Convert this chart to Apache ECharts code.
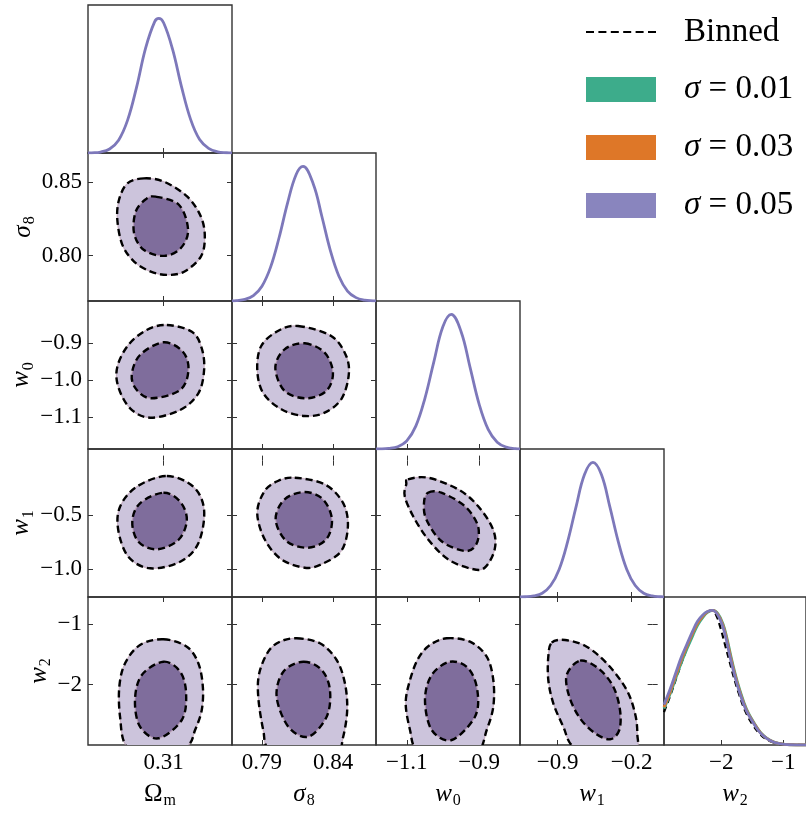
<!DOCTYPE html>
<html>
<head>
<meta charset="utf-8">
<script src="https://cdn.jsdelivr.net/npm/echarts@6.0.0/dist/echarts.min.js"></script>
<style>
  html, body { margin: 0; padding: 0; background: #fff; }
  #main { width: 806px; height: 814px; }
</style>
</head>
<body>
<div id="main"></div>
<script>
// ---- axes ----
const paramNames = ['{r|Ω}{s|m}', '{i|σ}{s|8}', '{i|w}{s|0}', '{i|w}{s|1}', '{i|w}{s|2}'];
const xRanges = [[0.268, 0.348], [0.769, 0.870], [-1.185, -0.787], [-1.255, 0.107], [-2.92, -0.634]];
const yRanges = [[0.268, 0.348], [0.769, 0.870], [-1.185, -0.787], [-1.255, 0.107], [-2.993, -0.555]];
const xTicks = [[0.31], [0.79, 0.84], [-1.1, -0.9], [-0.9, -0.2], [-2, -1]];
const xTickLabels = [['0.31'], ['0.79', '0.84'], ['−1.1', '−0.9'], ['−0.9', '−0.2'], ['−2', '−1']];
const yTicks = [[], [0.80, 0.85], [-1.1, -1.0, -0.9], [-1.0, -0.5], [-2, -1]];
const yTickLabels = [[], ['0.80', '0.85'], ['−1.1', '−1.0', '−0.9'], ['−1.0', '−0.5'], ['−2', '−1']];

// ---- 1D marginals (peak = 1) ----
const pdfOm = [[0.268,0.0005],[0.270,0.0014],[0.275,0.0072],[0.280,0.030],[0.285,0.095],[0.290,0.244],[0.295,0.49],[0.300,0.78],[0.305,0.975],[0.3073,1.0],[0.310,0.968],[0.315,0.77],[0.320,0.49],[0.325,0.25],[0.330,0.10],[0.335,0.035],[0.340,0.009],[0.345,0.002],[0.348,0.0005]];
const pdfS8 = [[0.769,0.001],[0.772,0.003],[0.778,0.012],[0.784,0.040],[0.790,0.110],[0.796,0.25],[0.802,0.47],[0.808,0.73],[0.814,0.94],[0.8188,1.0],[0.826,0.87],[0.832,0.63],[0.838,0.375],[0.844,0.184],[0.850,0.074],[0.856,0.025],[0.862,0.007],[0.868,0.0016],[0.870,0.001]];
const pdfW0 = [[-1.185,0.0004],[-1.175,0.0007],[-1.150,0.004],[-1.125,0.017],[-1.100,0.06],[-1.075,0.17],[-1.050,0.375],[-1.025,0.65],[-1.000,0.91],[-0.977,1.0],[-0.950,0.874],[-0.925,0.607],[-0.900,0.334],[-0.875,0.146],[-0.850,0.051],[-0.825,0.014],[-0.800,0.003],[-0.787,0.001]];
const pdfW1 = [[-1.255,0.001],[-1.205,0.0018],[-1.125,0.008],[-1.045,0.028],[-0.965,0.085],[-0.885,0.205],[-0.805,0.41],[-0.725,0.67],[-0.645,0.91],[-0.565,1.0],[-0.485,0.91],[-0.405,0.67],[-0.325,0.41],[-0.245,0.205],[-0.165,0.085],[-0.085,0.028],[-0.005,0.008],[0.075,0.0018],[0.107,0.001]];
const pdfW2 = [[-2.92,0.30],[-2.825,0.41],[-2.72,0.55],[-2.639,0.655],[-2.55,0.75],[-2.455,0.85],[-2.38,0.92],[-2.30,0.965],[-2.22,0.992],[-2.14,1.0],[-2.06,0.97],[-1.98,0.89],[-1.92,0.79],[-1.857,0.655],[-1.79,0.53],[-1.714,0.407],[-1.60,0.26],[-1.476,0.16],[-1.37,0.09],[-1.269,0.05],[-1.16,0.022],[-1.063,0.01],[-0.90,0.002],[-0.634,0.0]];
const pdfW2s01 = [[-2.92,0.27],[-2.825,0.375],[-2.72,0.51],[-2.639,0.615],[-2.55,0.715],[-2.455,0.815],[-2.38,0.89],[-2.30,0.945],[-2.22,0.985],[-2.13,1.0],[-2.05,0.975],[-1.97,0.9],[-1.91,0.8],[-1.845,0.665],[-1.78,0.54],[-1.70,0.41],[-1.59,0.265],[-1.465,0.16],[-1.36,0.09],[-1.26,0.05],[-1.15,0.022],[-1.05,0.01],[-0.90,0.002],[-0.634,0]];
const pdfW2s03 = [[-2.92,0.28],[-2.825,0.39],[-2.72,0.53],[-2.639,0.635],[-2.55,0.735],[-2.455,0.835],[-2.38,0.905],[-2.30,0.955],[-2.22,0.99],[-2.135,1.0],[-2.055,0.972],[-1.975,0.895],[-1.915,0.795],[-1.85,0.66],[-1.785,0.535],[-1.707,0.408],[-1.595,0.262],[-1.47,0.16],[-1.365,0.09],[-1.265,0.05],[-1.155,0.022],[-1.055,0.01],[-0.90,0.002],[-0.634,0]];
const pdfW2binned = [[-2.92,0.245],[-2.825,0.36],[-2.72,0.50],[-2.639,0.61],[-2.55,0.72],[-2.455,0.83],[-2.38,0.905],[-2.30,0.955],[-2.22,0.99],[-2.15,1.0],[-2.08,0.965],[-2.01,0.87],[-1.94,0.75],[-1.87,0.63],[-1.80,0.51],[-1.72,0.39],[-1.61,0.25],[-1.49,0.15],[-1.38,0.085],[-1.28,0.045],[-1.17,0.02],[-1.07,0.008],[-0.90,0.001],[-0.634,0]];

// ---- 2D contours (95% outer, 68% inner) ----
const omS8Outer = [[0.2991,0.8527],[0.3103,0.8504],[0.3232,0.8402],[0.3307,0.8266],[0.3329,0.8129],[0.3307,0.7993],[0.3214,0.7890],[0.3121,0.7868],[0.3029,0.7890],[0.2936,0.7959],[0.2871,0.8073],[0.2843,0.8243],[0.2852,0.8379],[0.2899,0.8493]];
const omS8Inner = [[0.3056,0.8402],[0.3186,0.8345],[0.3236,0.8175],[0.3195,0.8050],[0.3103,0.7998],[0.2991,0.8038],[0.2936,0.8152],[0.2945,0.8300],[0.3001,0.8384]];
const omW0Outer = [[0.3118,-0.8515],[0.3257,-0.8696],[0.3312,-0.9142],[0.3325,-0.9725],[0.3293,-1.0352],[0.3192,-1.0801],[0.3025,-1.1008],[0.2914,-1.0755],[0.2848,-1.0174],[0.2843,-0.9637],[0.2904,-0.9053],[0.3006,-0.8650]];
const omW0Inner = [[0.3099,-0.8981],[0.3207,-0.9233],[0.3238,-0.9725],[0.3192,-1.0263],[0.3034,-1.0486],[0.2951,-1.0263],[0.2923,-0.9860],[0.2969,-0.9322]];
const omW1Outer = [[0.3118,-0.1415],[0.3265,-0.2399],[0.3325,-0.4544],[0.3293,-0.7608],[0.3192,-0.9302],[0.3025,-0.9909],[0.2904,-0.8842],[0.2848,-0.6384],[0.2858,-0.4240],[0.2951,-0.2399]];
const omW1Inner = [[0.3099,-0.2952],[0.3192,-0.3780],[0.3229,-0.5464],[0.3182,-0.7305],[0.3062,-0.8161],[0.2960,-0.7461],[0.2926,-0.5620],[0.2969,-0.3927]];
const omW2Outer = [[0.3099,-1.2518],[0.3229,-1.3737],[0.3293,-1.6472],[0.3318,-2.0326],[0.3312,-2.4165],[0.3275,-2.7459],[0.3229,-3.0210],[0.3053,-3.2945],[0.2895,-3.0210],[0.2858,-2.5268],[0.2854,-2.0326],[0.2886,-1.6472],[0.2969,-1.3457]];
const omW2Inner = [[0.3099,-1.6208],[0.3192,-1.7855],[0.3225,-2.1414],[0.3201,-2.5812],[0.3071,-2.8826],[0.2969,-2.6916],[0.2941,-2.2517],[0.2979,-1.8399]];
const s8W0Outer = [[0.8153,-0.8542],[0.8386,-0.8811],[0.8491,-0.9349],[0.8508,-0.9887],[0.8456,-1.0513],[0.8340,-1.0874],[0.8200,-1.0962],[0.8036,-1.0782],[0.7907,-1.0336],[0.7867,-0.9707],[0.7895,-0.9080],[0.8012,-0.8677]];
const s8W0Inner = [[0.8200,-0.9007],[0.8340,-0.9260],[0.8398,-0.9798],[0.8351,-1.0290],[0.8211,-1.0486],[0.8059,-1.0290],[0.7994,-0.9664],[0.8059,-0.9169]];
const s8W1Outer = [[0.8130,-0.1571],[0.8340,-0.2179],[0.8468,-0.3872],[0.8503,-0.6016],[0.8456,-0.8317],[0.8316,-0.9541],[0.8200,-0.9854],[0.8036,-0.9081],[0.7919,-0.7240],[0.7867,-0.4792],[0.7919,-0.2795],[0.8012,-0.1875]];
const s8W1Inner = [[0.8200,-0.2887],[0.8328,-0.3559],[0.8391,-0.5400],[0.8351,-0.7240],[0.8223,-0.8013],[0.8071,-0.7397],[0.7996,-0.5400],[0.8059,-0.3559]];
const s8W2Outer = [[0.8144,-1.2353],[0.8307,-1.3177],[0.8424,-1.5928],[0.8482,-1.9766],[0.8498,-2.4165],[0.8470,-2.8563],[0.8424,-3.1297],[0.8214,-3.3505],[0.7956,-3.0754],[0.7909,-2.7459],[0.7874,-2.1974],[0.7881,-1.8119],[0.7944,-1.4561],[0.8026,-1.2913]];
const s8W2Inner = [[0.8190,-1.6208],[0.8319,-1.7575],[0.8377,-2.0870],[0.8354,-2.5268],[0.8225,-2.8563],[0.8085,-2.6916],[0.8003,-2.1974],[0.8050,-1.7855]];
const w0W1Outer = [[-1.0966,-0.1719],[-1.0413,-0.1571],[-0.9584,-0.2639],[-0.9031,-0.4176],[-0.8616,-0.6320],[-0.8569,-0.8161],[-0.8846,-0.9854],[-0.9216,-0.9946],[-0.9860,-0.9081],[-1.0413,-0.7240],[-1.0827,-0.5096],[-1.1057,-0.3255],[-1.1013,-0.2179]];
const w0W1Inner = [[-1.0413,-0.2952],[-1.0045,-0.2952],[-0.9398,-0.4176],[-0.9031,-0.6016],[-0.9078,-0.7700],[-0.9398,-0.8317],[-1.0045,-0.7397],[-1.0460,-0.5400],[-1.0523,-0.3872]];
const w0W2Outer = [[-0.9896,-1.2353],[-0.9252,-1.2913],[-0.8790,-1.5384],[-0.8608,-1.9223],[-0.8608,-2.3621],[-0.8790,-2.7459],[-0.9067,-3.1297],[-0.9990,-3.2945],[-1.0725,-3.0754],[-1.0910,-2.7459],[-1.1029,-2.3061],[-1.0910,-1.9223],[-1.0681,-1.5648],[-1.0357,-1.3457]];
const w0W2Inner = [[-0.9805,-1.6208],[-0.9299,-1.7295],[-0.9050,-2.0870],[-0.9114,-2.5268],[-0.9758,-2.9106],[-1.0310,-2.7459],[-1.0496,-2.2517],[-1.0310,-1.8399]];
const w1W2Outer = [[-0.9552,-1.3078],[-0.8294,-1.2633],[-0.6242,-1.3737],[-0.4199,-1.6752],[-0.2458,-2.0870],[-0.1673,-2.4708],[-0.1456,-2.7998],[-0.1673,-3.1297],[-0.4672,-3.2401],[-0.7509,-3.0210],[-0.8455,-2.6916],[-0.9400,-2.3061],[-0.9873,-1.9223],[-0.9873,-1.5384]];
const w1W2Inner = [[-0.6875,-1.6043],[-0.5144,-1.7295],[-0.3726,-2.0326],[-0.3092,-2.4165],[-0.3158,-2.7459],[-0.4038,-2.8991],[-0.5457,-2.7998],[-0.6875,-2.5532],[-0.7887,-2.1974],[-0.8133,-1.8399]];

const SERIF = '"Liberation Serif", "DejaVu Serif", serif';
const FRAME = '#333';
const LIGHT = '#ccc4dc', DARK = '#7f6d9c';
const GREEN = '#3dac8b', ORANGE = '#de7728', PURPLE = '#8985be', LINE = '#7d78ba';

const nameRich = {
  r: { fontFamily: SERIF, fontSize: 25, color: '#000' },
  i: { fontFamily: SERIF, fontSize: 25, fontStyle: 'italic', color: '#000' },
  s: { fontFamily: SERIF, fontSize: 16, color: '#000', padding: [13, 0, 0, 1] }
};
const yNameGap = [0, 46, 46, 46, 32];

function labelFor(ticks, labels) {
  return function (v) {
    const i = ticks.findIndex(t => Math.abs(t - v) < 1e-9);
    return i < 0 ? '' : labels[i];
  };
}

const grids = [], xAxes = [], yAxes = [], panels = [];
const gridIdx = {};
for (let r = 0; r < 5; r++) {
  for (let c = 0; c <= r; c++) {
    const gi = grids.length;
    gridIdx[r + '-' + c] = gi;
    panels.push([r, c, gi]);
    grids.push({
      left: 88 + c * 144, top: 5 + r * 148, width: 144, height: 148,
      show: true, borderColor: FRAME, borderWidth: 1.4, backgroundColor: 'transparent'
    });
    const diag = r === c;
    xAxes.push({
      type: 'value', gridIndex: gi, position: 'bottom',
      min: xRanges[c][0], max: xRanges[c][1],
      axisLine: { show: false }, splitLine: { show: false },
      axisTick: { inside: true, length: 5, customValues: xTicks[c], lineStyle: { color: FRAME, width: 1 } },
      axisLabel: {
        show: r === 4, customValues: xTicks[c], formatter: labelFor(xTicks[c], xTickLabels[c]),
        fontFamily: SERIF, fontSize: 23, color: '#000', margin: 6
      },
      name: r === 4 ? paramNames[c] : '', nameLocation: 'middle', nameGap: 35,
      nameTextStyle: { rich: nameRich }
    });
    yAxes.push({
      type: 'value', gridIndex: gi, position: 'left',
      min: diag ? 0 : yRanges[r][0], max: diag ? 1.1 : yRanges[r][1],
      axisLine: { show: false }, splitLine: { show: false },
      axisTick: { show: !diag, inside: true, length: 5, customValues: diag ? [] : yTicks[r], lineStyle: { color: FRAME, width: 1 } },
      axisLabel: {
        show: !diag && c === 0, customValues: diag ? [] : yTicks[r],
        formatter: labelFor(yTicks[r], yTickLabels[r]),
        fontFamily: SERIF, fontSize: 23, color: '#000', margin: 6
      },
      name: (!diag && c === 0) ? paramNames[r] : '', nameLocation: 'middle', nameRotate: 90,
      nameGap: yNameGap[r], nameTextStyle: { rich: nameRich }
    });
  }
}
// ticks on top and right edges of the off-diagonal panels
panels.forEach(([r, c, gi]) => {
  if (r === c) return;
  xAxes.push({
    type: 'value', gridIndex: gi, position: 'top', min: xRanges[c][0], max: xRanges[c][1],
    axisLine: { show: false }, splitLine: { show: false }, axisLabel: { show: false },
    axisTick: { inside: true, length: 5, customValues: xTicks[c], lineStyle: { color: FRAME, width: 1 } }
  });
  yAxes.push({
    type: 'value', gridIndex: gi, position: 'right', min: yRanges[r][0], max: yRanges[r][1],
    axisLine: { show: false }, splitLine: { show: false }, axisLabel: { show: false },
    axisTick: { inside: true, length: 5, customValues: yTicks[r], lineStyle: { color: FRAME, width: 1 } }
  });
});

// closed Catmull-Rom curve through the projected contour vertices
function closedSpline(p) {
  const n = p.length;
  let d = 'M' + p[0][0] + ',' + p[0][1];
  for (let i = 0; i < n; i++) {
    const p0 = p[(i - 1 + n) % n], p1 = p[i], p2 = p[(i + 1) % n], p3 = p[(i + 2) % n];
    const c1x = p1[0] + (p2[0] - p0[0]) / 6, c1y = p1[1] + (p2[1] - p0[1]) / 6;
    const c2x = p2[0] - (p3[0] - p1[0]) / 6, c2y = p2[1] - (p3[1] - p1[1]) / 6;
    d += 'C' + c1x + ',' + c1y + ' ' + c2x + ',' + c2y + ' ' + p2[0] + ',' + p2[1];
  }
  return d + 'Z';
}

function contour(gi, pts, fill) {
  return {
    type: 'custom', xAxisIndex: gi, yAxisIndex: gi, clip: true, silent: true,
    data: pts,
    renderItem: function (params, api) {
      if (params.dataIndex !== 0) return;
      const d = closedSpline(pts.map(p => api.coord(p)));
      return {
        type: 'group',
        children: [
          { type: 'path', shape: { pathData: d }, style: { fill: fill, stroke: 'rgba(190,160,180,0.7)', lineWidth: 1.2 } },
          { type: 'path', shape: { pathData: d }, style: { fill: null, stroke: '#000', lineWidth: 2.4, lineDash: [7, 4] } }
        ]
      };
    }
  };
}

function curve(gi, data, color, width, dashed) {
  return {
    type: 'line', xAxisIndex: gi, yAxisIndex: gi, data: data, smooth: 0.4,
    showSymbol: false, silent: true,
    lineStyle: { color: color, width: width, type: dashed ? [6, 4] : 'solid' }
  };
}

const series = [];
const pairs = [
  [1, 0, omS8Outer, omS8Inner], [2, 0, omW0Outer, omW0Inner], [3, 0, omW1Outer, omW1Inner], [4, 0, omW2Outer, omW2Inner],
  [2, 1, s8W0Outer, s8W0Inner], [3, 1, s8W1Outer, s8W1Inner], [4, 1, s8W2Outer, s8W2Inner],
  [3, 2, w0W1Outer, w0W1Inner], [4, 2, w0W2Outer, w0W2Inner],
  [4, 3, w1W2Outer, w1W2Inner]
];
pairs.forEach(([r, c, outer, inner]) => {
  const gi = gridIdx[r + '-' + c];
  series.push(contour(gi, outer, LIGHT));
  series.push(contour(gi, inner, DARK));
});
series.push(curve(gridIdx['4-4'], pdfW2binned, '#000', 2.2, true));
series.push(curve(gridIdx['4-4'], pdfW2s01, GREEN, 2.8, false));
series.push(curve(gridIdx['4-4'], pdfW2s03, ORANGE, 2.8, false));
[pdfOm, pdfS8, pdfW0, pdfW1, pdfW2].forEach((d, i) => {
  series.push(curve(gridIdx[i + '-' + i], d, LINE, 2.8, false));
});

const legendText = { fontFamily: SERIF, fontSize: 33, fill: '#000', verticalAlign: 'middle' };
const legendRich = { i: { fontFamily: SERIF, fontSize: 33, fontStyle: 'italic' } };
const option = {
  animation: false,
  grid: grids,
  xAxis: xAxes,
  yAxis: yAxes,
  series: series,
  graphic: [
    { type: 'line', shape: { x1: 586, y1: 32, x2: 656, y2: 32 }, style: { stroke: '#000', lineWidth: 1.8, lineDash: [8, 4.4] } },
    { type: 'text', style: Object.assign({ x: 684, y: 32, text: 'Binned' }, legendText) },
    { type: 'rect', shape: { x: 586, y: 77, width: 70, height: 25 }, style: { fill: GREEN } },
    { type: 'text', style: Object.assign({ x: 684, y: 89.5, text: '{i|σ} = 0.01', rich: legendRich }, legendText) },
    { type: 'rect', shape: { x: 586, y: 135, width: 70, height: 25 }, style: { fill: ORANGE } },
    { type: 'text', style: Object.assign({ x: 684, y: 147.5, text: '{i|σ} = 0.03', rich: legendRich }, legendText) },
    { type: 'rect', shape: { x: 586, y: 193, width: 70, height: 25 }, style: { fill: PURPLE } },
    { type: 'text', style: Object.assign({ x: 684, y: 205.5, text: '{i|σ} = 0.05', rich: legendRich }, legendText) }
  ]
};

const chart = echarts.init(document.getElementById('main'));
chart.setOption(option);
window.addEventListener('resize', function () { chart.resize(); });
</script>
</body>
</html>
